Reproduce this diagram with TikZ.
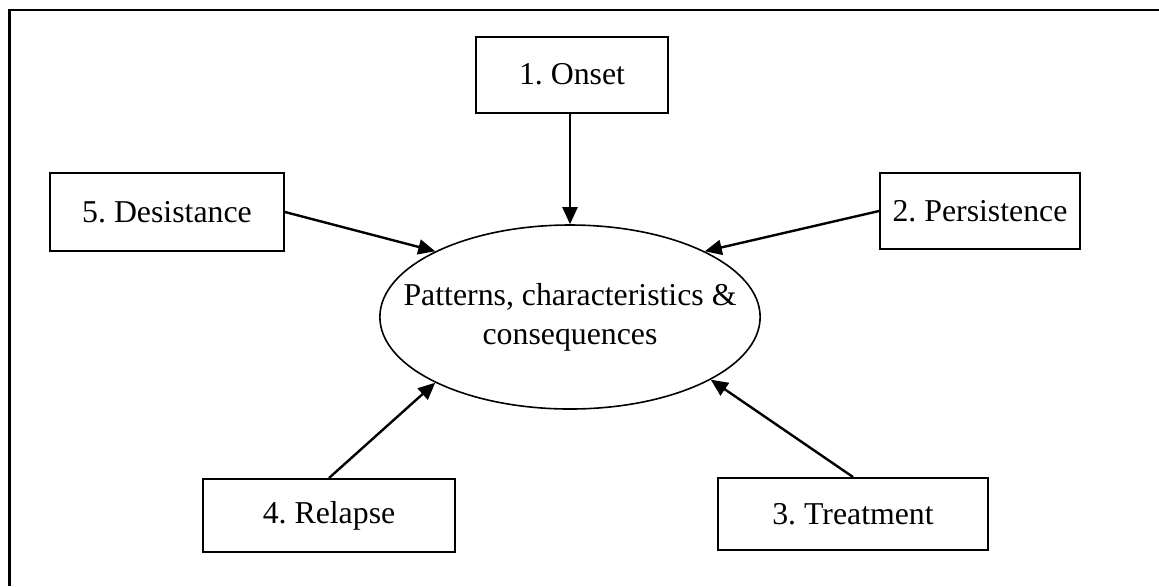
\documentclass[tikz,border=0pt]{standalone}
\usepackage{fontspec}
\setmainfont{Liberation Serif}
\frenchspacing
\usetikzlibrary{shapes.geometric,arrows.meta}

\begin{document}
\begin{tikzpicture}[x=0.5pt,y=-0.5pt,
% Stage style
		stage/.style={rectangle
							    , fill=white
							    , draw=black, line width=1pt
							    , minimum height=38pt
							    , inner sep=0pt
							    , text centered
							    , font=\fontsize{15.9}{19.5}\selectfont},
		core/.style={ellipse
							    , draw=black, line width=0.8pt
							    , minimum width=190pt
							    , minimum height=92pt
							    , inner xsep=-16pt
							    , inner ysep=0pt
							    , align=center
							    , font=\fontsize{15.9}{19.5}\selectfont},
% Frame and edges style
		frame/.style={line width=1.25pt},
    arbre/.style = {line width=1.2pt
			       			, >={Triangle[length=8.5pt,width=7.5pt]}}
	]
\useasboundingbox (0,0) rectangle (1159,586);
\draw [frame] (1159,10) -- (9.5,10) -- (9.5,586);
%% Draw stages and edges
		\begin{scope}[arbre]
			\node [core] (c) at (570,317) {Patterns, characteristics \&\\consequences};
			\node [stage, minimum width=96pt] (s1) at (572,74.5) {1. Onset};
			\node [stage, minimum width=100pt] (s2) at (980,211) {2. Persistence};
			\node [stage, minimum width=135pt, minimum height=36pt] (s3) at (853,514) {3. Treatment};
			\node [stage, minimum width=126pt, minimum height=36.5pt] (s4) at (329,515.5) {4. Relapse};
			\node [stage, minimum width=117pt, minimum height=39pt] (s5) at (167,212) {5. Desistance};

			\draw [->] (s1.south -| c.north) -- (c.north);
			\draw [->] (s2.west) -- (c.26);
			\draw [->] (s3.north) -- (c.336);
			\draw [->] (s4.north) -- (c.206);
			\draw [->] (s5.east) -- (c.154);
		\end{scope}
\end{tikzpicture}
\end{document}
